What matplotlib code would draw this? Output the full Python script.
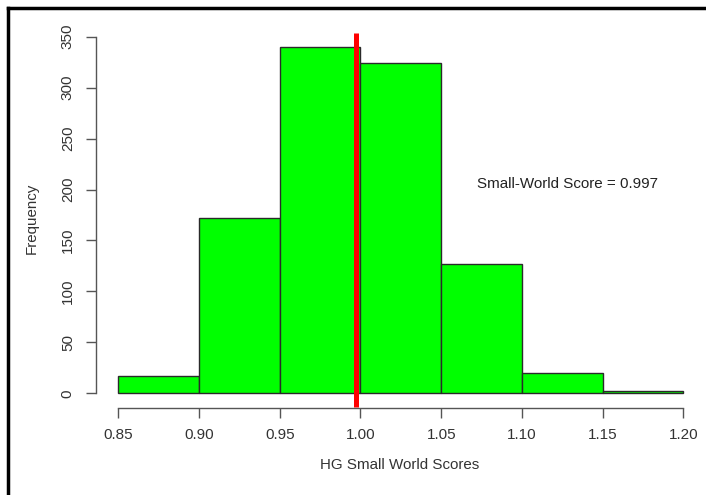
import matplotlib
matplotlib.use("Agg")
import matplotlib.pyplot as plt
from matplotlib.lines import Line2D
import numpy as np

plt.rcParams['font.family'] = ['Liberation Sans', 'DejaVu Sans']

# histogram of HG small world scores
bin_edges = [0.85, 0.90, 0.95, 1.00, 1.05, 1.10, 1.15, 1.20]
counts = [17, 172, 340, 324, 127, 20, 2]
observed = 0.997
xticks = [0.85, 0.90, 0.95, 1.00, 1.05, 1.10, 1.15, 1.20]
yticks = [0, 50, 100, 150, 200, 250, 300, 350]

fig = plt.figure(figsize=(7.06, 4.95), dpi=100)
ax = fig.add_axes([95.7 / 706, 1 - 407.6 / 495, 1 - 95.7 / 706, (407.6 - 22.4) / 495])

widths = np.diff(bin_edges)
ax.bar(bin_edges[:-1], counts, width=widths, align='edge',
       color='#00ff00', edgecolor='#2a2a2a', linewidth=1.0)

ax.plot([observed, observed], [-13, 354], color='red', lw=3.6,
        solid_capstyle='butt', zorder=5)

ax.text(1.072, 205, 'Small-World Score = 0.997', ha='left', va='center',
        fontsize=10.9, color='#222222')

ax.set_xlim(0.836, 1.214)
ax.set_ylim(-14, 364)

for s in ['top', 'right']:
    ax.spines[s].set_visible(False)
ax.spines['left'].set_bounds(0, 350)
ax.spines['bottom'].set_bounds(0.85, 1.20)
for s in ['left', 'bottom']:
    ax.spines[s].set_color('#555555')
    ax.spines[s].set_linewidth(1.0)

ax.set_xticks(xticks)
ax.set_xticklabels(['%.2f' % v for v in xticks])
ax.set_yticks(yticks)
ax.set_yticklabels([str(v) for v in yticks], rotation=90, va='center')
ax.tick_params(axis='both', colors='#555555', labelcolor='#333333',
               labelsize=11, length=7, width=1.0)
ax.tick_params(axis='x', pad=8)
ax.tick_params(axis='y', pad=8)

fig.text(32 / 706, 1 - 218 / 495, 'Frequency', rotation=90, ha='center',
         va='center', fontsize=10.9, color='#333333')
fig.text(400 / 706, 1 - 465 / 495, 'HG Small World Scores', ha='center',
         va='center', fontsize=10.9, color='#333333')

# partial black frame (top and left edges)
fig.add_artist(Line2D([8 / 706, 1.0], [1 - 7.5 / 495, 1 - 7.5 / 495],
                      transform=fig.transFigure, color='black', lw=2.5))
fig.add_artist(Line2D([8 / 706, 8 / 706], [1 - 7.5 / 495, 0],
                      transform=fig.transFigure, color='black', lw=2.5))

fig.savefig('out.png', dpi=100)
